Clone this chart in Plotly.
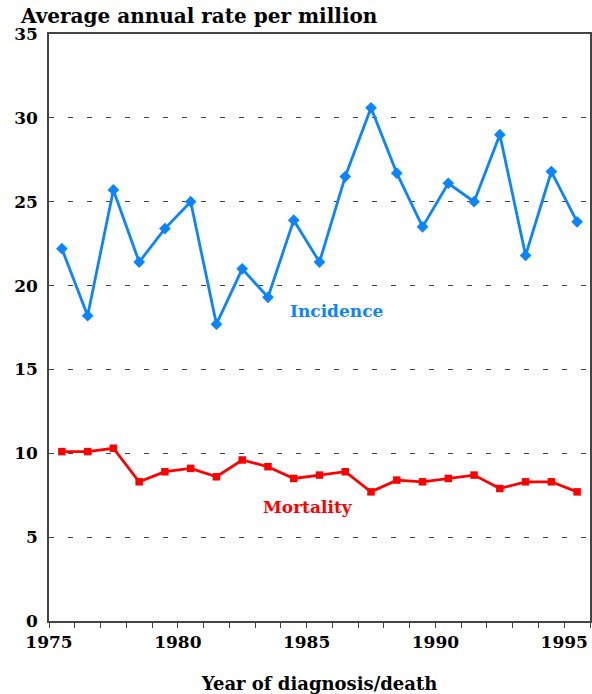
import plotly.graph_objects as go

years = [1975.5 + i for i in range(21)]
incidence = [22.2, 18.2, 25.7, 21.4, 23.4, 25.0, 17.7, 21.0, 19.3, 23.9, 21.4,
             26.5, 30.6, 26.7, 23.5, 26.1, 25.0, 29.0, 21.8, 26.8, 23.8]
mortality = [10.1, 10.1, 10.3, 8.3, 8.9, 9.1, 8.6, 9.6, 9.2, 8.5, 8.7,
             8.9, 7.7, 8.4, 8.3, 8.5, 8.7, 7.9, 8.3, 8.3, 7.7]
x_ticks = [1975, 1980, 1985, 1990, 1995]
y_ticks = [0, 5, 10, 15, 20, 25, 30, 35]

BLUE = "#0A84FF"
RED = "#FF0000"
FONT = "DejaVu Serif"

W, H = 592, 694

fig = go.Figure()
fig.add_trace(go.Scatter(x=years, y=incidence, mode="lines+markers",
                         line=dict(color=BLUE, width=2.8),
                         marker=dict(symbol="diamond", size=9, color=BLUE),
                         showlegend=False, cliponaxis=False))
fig.add_trace(go.Scatter(x=years, y=mortality, mode="lines+markers",
                         line=dict(color=RED, width=2.8),
                         marker=dict(symbol="square", size=7.5, color=RED),
                         showlegend=False, cliponaxis=False))

fig.add_annotation(x=1986.17, y=18.5, text="<b>Incidence</b>", showarrow=False,
                   font=dict(family=FONT, size=17, color=BLUE))
fig.add_annotation(x=1985.05, y=6.8, text="<b>Mortality</b>", showarrow=False,
                   font=dict(family=FONT, size=17, color=RED))

fig.update_layout(
    width=W, height=H,
    margin=dict(l=49, r=2, t=34, b=73),
    plot_bgcolor="white", paper_bgcolor="white",
    font=dict(family=FONT, size=17, color="black"),
    title=dict(text="<b>Average annual rate per million</b>",
               x=21/W, xanchor="left", y=1-16/H, yanchor="middle",
               font=dict(family=FONT, size=20, color="black")),
    xaxis=dict(range=[1975, 1996], tickvals=x_ticks,
               ticktext=[f"<b>{v}</b>" for v in x_ticks],
               ticks="outside", ticklen=5, tickcolor="#444", automargin=False,
               minor=dict(dtick=1, ticks="outside", ticklen=5, tickcolor="#444", showgrid=False),
               showgrid=False, showline=True, linecolor="#444", linewidth=1.5,
               mirror=True, zeroline=False,
               title=dict(text="<b>Year of diagnosis/death</b>", standoff=26,
                          font=dict(family=FONT, size=18))),
    yaxis=dict(range=[0, 35], tickvals=y_ticks, automargin=False,
               ticktext=[f"<b>{v}</b>" for v in y_ticks],
               ticks="", ticklabelstandoff=6,
               showgrid=True, gridcolor="#444", griddash="5px,14px",
               gridwidth=1, showline=True, linecolor="#444", linewidth=1.5,
               mirror=True, zeroline=False),
)

fig.write_html(
    "out.html",
    config={"displayModeBar": False},
    post_script="document.body.style.margin='0';document.body.style.overflow='hidden';",
)
